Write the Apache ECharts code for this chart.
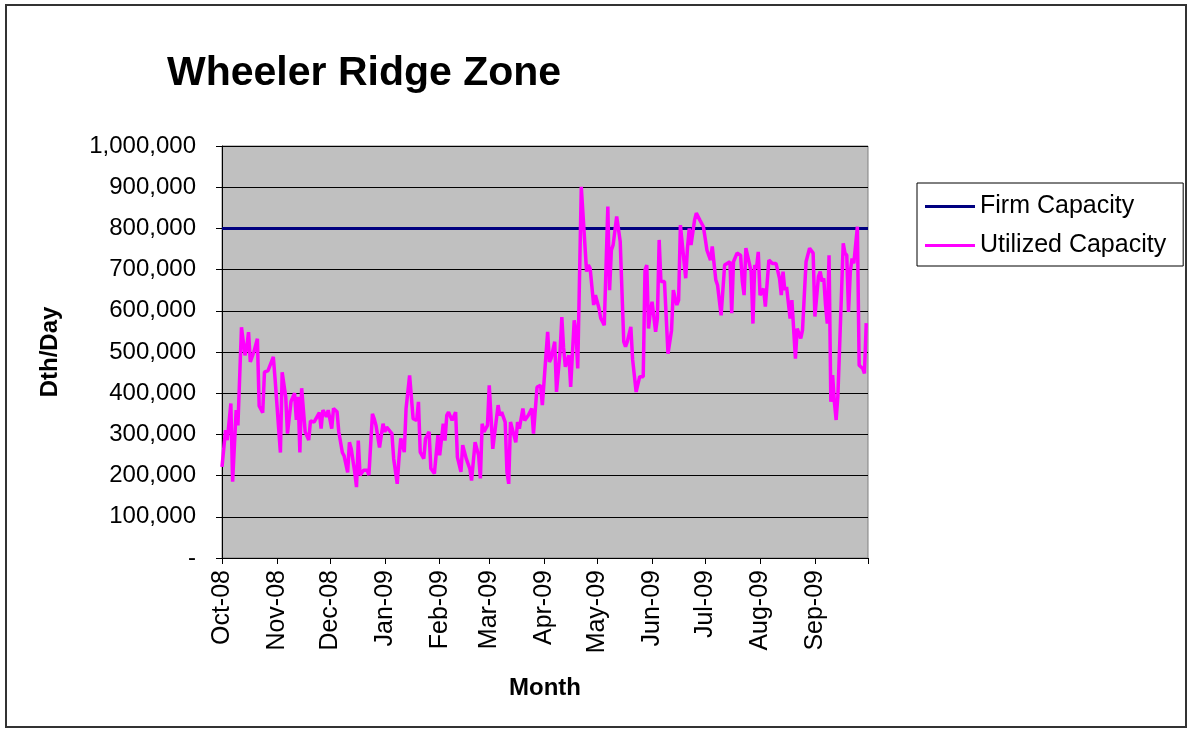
<!DOCTYPE html>
<html>
<head>
<meta charset="utf-8">
<script src="https://cdn.jsdelivr.net/npm/echarts@6/dist/echarts.min.js"></script>
<style>
  html, body { margin: 0; padding: 0; background: #fff; }
  #chart { width: 1192px; height: 732px; }
</style>
</head>
<body>
<div id="chart"></div>
<script>
// days from 2008-10-01 (0) to 2009-10-01 (365)
var startDate = new Date(2008, 9, 1)
var dayCount = 366
var monthNames = ['Jan', 'Feb', 'Mar', 'Apr', 'May', 'Jun', 'Jul', 'Aug', 'Sep', 'Oct', 'Nov', 'Dec']

var firmCapacity = 800000

// utilized capacity (day index, Dth/day)
var utilDay = [
  0, 2, 3, 5, 6, 8, 9, 11, 13, 14, 15, 16, 18, 20, 21, 23, 24, 26, 29, 30,
  33, 34, 36, 37, 39, 41, 42, 43, 44, 45, 47, 49, 50, 52, 55, 56, 57, 59, 60, 62,
  63, 65, 66, 68, 69, 71, 72, 73, 75, 76, 77, 78, 80, 82, 83, 85, 86, 87, 89, 91,
  92, 93, 96, 97, 99, 100, 101, 103, 104, 106, 108, 110, 111, 112, 114, 115, 117, 118, 120, 122,
  123, 125, 126, 127, 128, 130, 132, 133, 134, 135, 136, 137, 138, 140, 141, 143, 145, 146, 147, 148,
  150, 151, 153, 154, 156, 157, 158, 160, 161, 162, 163, 164, 166, 167, 168, 170, 171, 173, 175, 176,
  177, 178, 180, 181, 184, 185, 186, 188, 189, 191, 192, 193, 194, 196, 197, 199, 200, 201, 203, 206,
  207, 208, 210, 211, 213, 214, 216, 218, 219, 220, 221, 222, 223, 225, 227, 228, 229, 231, 232, 234,
  236, 238, 239, 240, 241, 242, 243, 245, 246, 247, 248, 250, 252, 254, 255, 257, 258, 259, 260, 262,
  263, 264, 265, 267, 268, 270, 272, 273, 274, 276, 277, 279, 280, 282, 283, 284, 285, 287, 288, 289,
  291, 293, 294, 295, 296, 299, 300, 301, 302, 303, 304, 306, 307, 309, 311, 313, 315, 316, 317, 318,
  319, 320, 321, 322, 324, 325, 327, 328, 330, 331, 332, 333, 334, 335, 336, 337, 338, 339, 340, 341,
  342, 343, 344, 345, 346, 347, 348, 349, 351, 352, 353, 354, 355, 356, 357, 359, 360, 362, 363, 364
]
var utilValue = [
  221000, 310000, 286000, 375000, 185000, 359000, 322000, 560000, 492000, 512000, 548000, 476000, 500000, 532000, 369000, 353000, 451000, 455000, 488000, 434000,
  256000, 451000, 391000, 302000, 380000, 400000, 335000, 391000, 256000, 412000, 306000, 286000, 333000, 330000, 353000, 314000, 359000, 343000, 359000, 314000,
  363000, 355000, 306000, 256000, 248000, 208000, 281000, 265000, 208000, 172000, 285000, 201000, 213000, 213000, 201000, 350000, 338000, 322000, 268000, 326000,
  306000, 318000, 302000, 241000, 180000, 241000, 290000, 257000, 363000, 443000, 338000, 334000, 379000, 257000, 241000, 290000, 306000, 217000, 205000, 298000,
  249000, 326000, 285000, 346000, 354000, 334000, 354000, 245000, 241000, 209000, 274000, 278000, 241000, 217000, 188000, 281000, 249000, 193000, 326000, 306000,
  322000, 419000, 265000, 265000, 371000, 346000, 354000, 330000, 209000, 180000, 330000, 334000, 281000, 330000, 314000, 363000, 334000, 346000, 363000, 302000,
  298000, 415000, 419000, 371000, 549000, 476000, 485000, 525000, 403000, 500000, 585000, 510000, 464000, 492000, 415000, 577000, 549000, 460000, 901000, 695000,
  711000, 703000, 614000, 638000, 606000, 582000, 565000, 853000, 650000, 747000, 760000, 760000, 829000, 768000, 525000, 513000, 525000, 561000, 482000, 403000,
  440000, 440000, 699000, 711000, 557000, 598000, 622000, 549000, 581000, 772000, 671000, 671000, 496000, 553000, 650000, 614000, 626000, 808000, 804000, 679000,
  752000, 800000, 760000, 820000, 837000, 820000, 804000, 776000, 747000, 723000, 756000, 675000, 662000, 589000, 585000, 711000, 715000, 719000, 594000, 719000,
  740000, 735000, 671000, 638000, 752000, 695000, 569000, 711000, 703000, 743000, 638000, 654000, 610000, 723000, 715000, 715000, 679000, 638000, 695000, 650000,
  658000, 662000, 581000, 626000, 484000, 557000, 533000, 553000, 719000, 723000, 752000, 748000, 740000, 586000, 586000, 683000, 695000, 671000, 679000, 614000,
  569000, 735000, 379000, 444000, 379000, 335000, 395000, 517000, 764000, 740000, 735000, 597000, 695000, 727000, 715000, 804000, 468000, 460000, 448000, 570000
]

var days = []
for (var i = 0; i < dayCount; i++) {
  var d = new Date(startDate.getFullYear(), startDate.getMonth(), startDate.getDate() + i)
  days.push(d.getFullYear() + '-' + (d.getMonth() + 1) + '-' + d.getDate())
}

function isMonthStart (idx) {
  return days[idx].split('-')[2] === '1'
}

function monthLabel (val) {
  var p = val.split('-')
  return monthNames[+p[1] - 1] + '-' + p[0].slice(2)
}

var utilData = utilDay.map(function (d, i) { return [d, utilValue[i]] })
var firmData = [[0, firmCapacity], [dayCount - 1, firmCapacity]]

var font = 'Liberation Sans, Arial, sans-serif'

var option = {
  backgroundColor: '#ffffff',
  animation: false,
  title: {
    text: 'Wheeler Ridge Zone',
    left: 162,
    top: 48,
    textStyle: { fontFamily: font, fontSize: 41, fontWeight: 'bold', color: '#000' }
  },
  legend: {
    orient: 'vertical',
    left: 917,
    top: 183,
    padding: [11, 17, 8, 8],
    itemGap: 14,
    itemWidth: 50,
    itemHeight: 3,
    borderColor: '#000',
    borderWidth: 1,
    backgroundColor: '#fff',
    borderRadius: 0,
    textStyle: { fontFamily: font, fontSize: 25, color: '#000' },
    data: [
      { name: 'Firm Capacity', icon: 'rect' },
      { name: 'Utilized Capacity', icon: 'rect' }
    ]
  },
  grid: {
    left: 222,
    right: 324,
    top: 146,
    bottom: 174,
    show: true,
    backgroundColor: '#c0c0c0',
    borderColor: '#808080',
    borderWidth: 1
  },
  xAxis: {
    type: 'category',
    data: days,
    boundaryGap: false,
    name: 'Month',
    nameLocation: 'middle',
    nameGap: 118,
    nameTextStyle: { fontFamily: font, fontSize: 24, fontWeight: 'bold', color: '#000' },
    axisLine: { lineStyle: { color: '#000', width: 1 } },
    axisTick: {
      length: 6,
      lineStyle: { color: '#000' },
      interval: function (idx) { return isMonthStart(idx) }
    },
    axisLabel: {
      rotate: 90,
      margin: 12,
      fontFamily: font,
      fontSize: 25,
      color: '#000',
      interval: function (idx) { return isMonthStart(idx) && idx < dayCount - 1 },
      formatter: monthLabel
    },
    splitLine: { show: false }
  },
  yAxis: {
    type: 'value',
    min: 0,
    max: 1000000,
    interval: 100000,
    name: 'Dth/Day',
    nameLocation: 'middle',
    nameRotate: 90,
    nameGap: 160,
    nameTextStyle: { fontFamily: font, fontSize: 24, fontWeight: 'bold', color: '#000' },
    axisLine: { show: true, lineStyle: { color: '#000', width: 1 } },
    axisTick: { show: true, length: 6, lineStyle: { color: '#000' } },
    axisLabel: {
      margin: 26,
      fontFamily: font,
      fontSize: 24,
      color: '#000',
      formatter: function (v) { return v === 0 ? '-' : v.toLocaleString('en-US') }
    },
    splitLine: { lineStyle: { color: '#000', width: 1 } }
  },
  graphic: [
    {
      type: 'rect',
      shape: { x: 6, y: 5, width: 1180, height: 722 },
      style: { fill: 'none', stroke: '#333', lineWidth: 2 },
      silent: true
    }
  ],
  series: [
    {
      name: 'Firm Capacity',
      type: 'line',
      data: firmData,
      symbol: 'none',
      lineStyle: { color: '#000080', width: 3 },
      itemStyle: { color: '#000080' }
    },
    {
      name: 'Utilized Capacity',
      type: 'line',
      data: utilData,
      symbol: 'none',
      lineStyle: { color: '#ff00ff', width: 3.5 },
      itemStyle: { color: '#ff00ff' }
    }
  ]
}

var myChart = echarts.init(document.getElementById('chart'))
myChart.setOption(option)
</script>
</body>
</html>
